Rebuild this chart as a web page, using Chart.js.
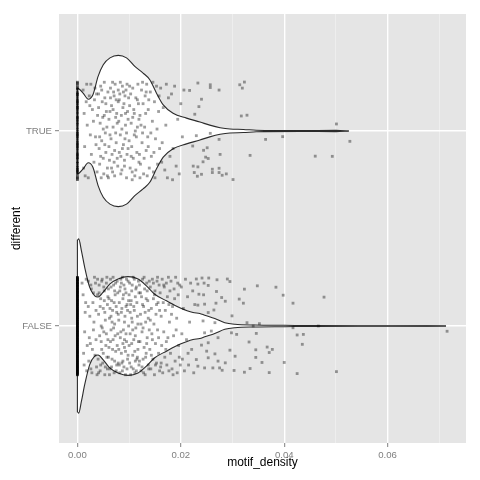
<!DOCTYPE html>
<html>
<head>
<meta charset="utf-8">
<script src="https://cdn.jsdelivr.net/npm/chart.js@4.4.0/dist/chart.umd.min.js"></script>
<style>
  html, body { margin: 0; padding: 0; background: #fff; }
  #chart { display: block; }
</style>
</head>
<body>
<canvas id="chart" width="480" height="480"></canvas>
<script>
// categories (y) and ticks
const categories = ['FALSE', 'TRUE'];
const categoryPos = [1, 2];
const xTicks = [0, 0.01, 0.02, 0.03, 0.04, 0.05, 0.06, 0.07];
const xTickLabels = ['0.00', '', '0.02', '', '0.04', '', '0.06', ''];

// violin outlines: motif_density and half width
const trueViolinX = [0, 0.0011, 0.0021, 0.0030, 0.0040, 0.0050, 0.0063, 0.0079, 0.0095, 0.0111, 0.0127, 0.0140, 0.0153, 0.0166, 0.0185, 0.0211, 0.0237, 0.0256, 0.0276, 0.0295, 0.0321, 0.0346, 0.0430, 0.0500, 0.0525];
const trueViolinHalf = [0.220, 0.194, 0.163, 0.186, 0.280, 0.340, 0.375, 0.388, 0.375, 0.331, 0.297, 0.263, 0.194, 0.134, 0.091, 0.066, 0.046, 0.030, 0.017, 0.010, 0.008, 0.004, 0.002, 0.003, 0];
const falseViolinX = [0, 0.00025, 0.00077, 0.00141, 0.00238, 0.00335, 0.00399, 0.00495, 0.00625, 0.00786, 0.00979, 0.01173, 0.01335, 0.01496, 0.01723, 0.0198, 0.02237, 0.02367, 0.02464, 0.02657, 0.02851, 0.03045, 0.03432, 0.0401, 0.0459, 0.0600, 0.0713];
const falseViolinHalf = [0.440, 0.447, 0.387, 0.301, 0.198, 0.155, 0.149, 0.172, 0.215, 0.241, 0.253, 0.241, 0.206, 0.163, 0.129, 0.094, 0.069, 0.064, 0.055, 0.038, 0.017, 0.009, 0.005, 0.0035, 0.002, 0.0015, 0];

// jittered points: zeros (vertical jitter only) and [motif_density, jitter]
const trueZeroJitter = [0.243, 0.231, 0.22, 0.214, 0.198, 0.19, 0.176, 0.163, 0.155, 0.141, 0.13, 0.122, 0.109, 0.097, 0.088, 0.074, 0.069, 0.052, 0.041, 0.033, 0.02, 0.008, -0.004, -0.013, -0.027, -0.035, -0.048, -0.059, -0.066, -0.081, -0.09, -0.102, -0.115, -0.121, -0.137, -0.144, -0.158, -0.166, -0.179, -0.188, -0.197, -0.21, -0.219, -0.233, -0.241, -0.249, 0.25, 0.186, 0.117, 0.06, -0.019, -0.074, -0.129, -0.203, 0.148];
const truePoints = [
  [0.0011,0.21],[0.0014,-0.08],[0.0017,0.15],[0.0012,-0.19],[0.0019,0.03],[0.0015,-0.23],[0.0018,0.24],[0.0013,0.09],
  [0.0023,0.18],[0.0027,-0.12],[0.0031,0.05],[0.0034,0.22],[0.0038,-0.21],[0.0025,-0.02],[0.0029,0.11],[0.0036,-0.07],[0.0021,-0.24],[0.0033,0.16],[0.0039,0.08],[0.0026,0.24],[0.0032,-0.16],[0.0037,0.19],[0.0024,0.13],[0.0035,-0.03],
  [0.0041,0.12],[0.0043,-0.17],[0.0045,0.23],[0.0047,-0.05],[0.0049,0.07],[0.0051,-0.22],[0.0053,0.17],[0.0055,-0.11],[0.0057,0.02],[0.0059,0.20],[0.0042,-0.09],[0.0044,0.04],[0.0046,-0.24],[0.0048,0.15],[0.0050,-0.14],[0.0052,0.25],[0.0054,-0.01],[0.0056,0.10],[0.0058,-0.19],[0.0041,0.19],[0.0043,-0.03],[0.0047,0.21],[0.0050,0.01],[0.0053,-0.07],[0.0055,0.14],[0.0058,-0.23],[0.0045,-0.13],[0.0052,0.08],
  [0.0061,0.06],[0.0062,-0.15],[0.0064,0.22],[0.0065,-0.04],[0.0066,0.13],[0.0068,-0.21],[0.0069,0.02],[0.0071,0.18],[0.0072,-0.10],[0.0073,0.24],[0.0075,-0.06],[0.0076,0.09],[0.0078,-0.18],[0.0079,0.15],[0.0060,-0.24],[0.0063,0.10],[0.0067,-0.12],[0.0070,0.20],[0.0074,-0.01],[0.0077,0.04],[0.0061,-0.08],[0.0064,0.17],[0.0066,-0.19],[0.0069,0.11],[0.0072,-0.23],[0.0074,0.07],[0.0077,-0.14],[0.0079,0.21],[0.0063,-0.02],[0.0068,0.25],[0.0071,-0.16],[0.0075,0.16],
  [0.0081,-0.11],[0.0082,0.19],[0.0083,-0.02],[0.0085,0.08],[0.0086,-0.20],[0.0087,0.23],[0.0089,-0.07],[0.0090,0.14],[0.0091,-0.15],[0.0093,0.03],[0.0094,0.21],[0.0095,-0.24],[0.0097,0.10],[0.0098,-0.09],[0.0099,0.17],[0.0080,0.05],[0.0084,-0.13],[0.0088,0.12],[0.0092,-0.04],[0.0096,0.24],[0.0081,0.16],[0.0084,-0.22],[0.0086,0.01],[0.0089,0.20],[0.0091,-0.18],[0.0093,0.09],[0.0096,-0.12],[0.0098,0.06],[0.0083,0.25],[0.0087,-0.09],[0.0092,0.18],[0.0095,-0.01],
  [0.0101,0.13],[0.0102,-0.19],[0.0104,0.04],[0.0105,-0.08],[0.0107,0.22],[0.0108,-0.14],[0.0110,0.09],[0.0111,-0.23],[0.0113,0.17],[0.0114,-0.03],[0.0116,0.02],[0.0117,0.24],[0.0119,-0.16],[0.0100,-0.05],[0.0103,0.19],[0.0106,-0.21],[0.0109,0.11],[0.0112,0.00],[0.0115,-0.11],[0.0118,0.14],[0.0101,0.23],[0.0104,-0.13],[0.0107,0.07],[0.0110,-0.02],[0.0113,-0.20],[0.0116,0.16],[0.0119,0.06],[0.0106,-0.25],
  [0.0121,0.08],[0.0122,-0.17],[0.0124,0.21],[0.0125,-0.06],[0.0127,0.14],[0.0128,-0.22],[0.0130,0.02],[0.0131,0.18],[0.0133,-0.10],[0.0134,0.24],[0.0136,-0.03],[0.0137,0.11],[0.0139,-0.19],[0.0120,-0.12],[0.0123,0.03],[0.0126,0.25],[0.0129,-0.14],[0.0132,0.09],[0.0135,-0.23],[0.0138,0.16],[0.0121,-0.24],[0.0126,-0.01],[0.0133,0.20],[0.0137,-0.08],
  [0.0141,0.20],[0.0143,-0.13],[0.0145,0.05],[0.0147,-0.21],[0.0149,0.15],[0.0151,-0.04],[0.0153,0.23],[0.0155,-0.17],[0.0157,0.10],[0.0159,-0.09],[0.0142,-0.01],[0.0146,0.25],[0.0150,-0.24],[0.0154,0.01],[0.0158,0.18],[0.0148,-0.11],
  [0.0161,0.22],[0.0164,-0.06],[0.0166,0.12],[0.0169,-0.20],[0.0171,0.03],[0.0174,-0.24],[0.0176,0.17],[0.0179,-0.13],[0.0163,-0.16],[0.0172,0.24],
  [0.0182,0.19],[0.0185,-0.09],[0.0188,0.23],[0.0191,-0.18],[0.0194,0.06],[0.0197,-0.22],[0.0200,0.14],[0.0203,-0.03],[0.0206,0.21],[0.0184,-0.25],
  [0.0323,0.251],[0.0319,0.220],[0.0314,0.237],[0.0328,0.081],[0.0317,0.077],[0.0501,0.036],[0.0397,-0.029],[0.0364,-0.043],[0.0527,-0.053],[0.0334,-0.125],[0.0460,-0.129],[0.0493,-0.130],
  [0.0233,0.246],[0.0257,0.237],[0.0257,0.223],[0.0274,0.210],[0.0240,0.163],[0.0235,0.125],[0.0217,0.208],[0.0227,0.086],[0.0257,-0.012],[0.0230,-0.024],[0.0274,-0.043],[0.0223,-0.077],[0.0251,-0.086],[0.0244,-0.099],[0.0276,-0.120],[0.0248,-0.134],[0.0253,-0.141],[0.0243,-0.158],[0.0224,-0.180],[0.0233,-0.184],[0.0261,-0.196],[0.0274,-0.191],[0.0226,-0.213],[0.0240,-0.222],[0.0232,-0.232],[0.0261,-0.213],[0.0274,-0.213],[0.0280,-0.227],[0.0288,-0.220],[0.0301,-0.249]
];
const falseZeroJitter = [0.249, 0.244, 0.238, 0.235, 0.229, 0.222, 0.219, 0.213, 0.207, 0.203, 0.196, 0.191, 0.186, 0.18, 0.174, 0.171, 0.164, 0.158, 0.153, 0.149, 0.141, 0.137, 0.131, 0.126, 0.12, 0.114, 0.109, 0.103, 0.098, 0.091, 0.087, 0.081, 0.075, 0.07, 0.063, 0.059, 0.052, 0.047, 0.042, 0.035, 0.031, 0.024, 0.019, 0.013, 0.008, 0.002, -0.004, -0.009, -0.015, -0.021, -0.026, -0.032, -0.036, -0.043, -0.048, -0.053, -0.059, -0.065, -0.07, -0.076, -0.081, -0.086, -0.093, -0.097, -0.103, -0.108, -0.114, -0.119, -0.125, -0.13, -0.136, -0.14, -0.147, -0.152, -0.157, -0.163, -0.168, -0.174, -0.179, -0.185, -0.19, -0.196, -0.201, -0.207, -0.212, -0.217, -0.223, -0.228, -0.234, -0.239, -0.245, -0.25];
const falsePoints = [
  [0.0009,0.22],[0.0012,-0.14],[0.0015,0.07],[0.0018,-0.23],[0.0011,0.16],[0.0014,-0.03],[0.0017,0.24],[0.0019,-0.10],[0.0013,-0.20],[0.0016,0.12],
  [0.0021,0.23],[0.0022,-0.18],[0.0024,0.05],[0.0025,-0.09],[0.0027,0.19],[0.0028,-0.24],[0.0030,0.12],[0.0031,-0.02],[0.0033,0.25],[0.0034,-0.15],[0.0036,0.08],[0.0037,-0.21],[0.0039,0.16],[0.0023,-0.06],[0.0026,0.21],[0.0029,-0.12],[0.0032,0.02],[0.0035,0.22],[0.0038,-0.25],[0.0021,0.10],[0.0026,-0.22],[0.0031,0.17],[0.0036,-0.07],[0.0039,0.24],
  [0.0040,-0.17],[0.0041,0.06],[0.0042,0.21],[0.0043,-0.05],[0.0044,-0.23],[0.0045,0.14],[0.0046,0.00],[0.0047,-0.12],[0.0048,0.24],[0.0049,-0.19],[0.0050,0.09],[0.0051,-0.03],[0.0052,0.18],[0.0053,-0.25],[0.0054,0.03],[0.0055,-0.10],[0.0056,0.22],[0.0057,-0.16],[0.0058,0.11],[0.0059,-0.07],[0.0041,-0.24],[0.0042,0.17],[0.0044,0.10],[0.0045,-0.20],[0.0047,0.23],[0.0048,-0.01],[0.0050,-0.14],[0.0051,0.20],[0.0053,0.07],[0.0054,-0.21],[0.0056,-0.04],[0.0057,0.25],[0.0058,-0.22],[0.0059,0.15],[0.0046,-0.08],[0.0052,0.13],
  [0.0060,0.19],[0.0061,-0.11],[0.0062,0.04],[0.0063,-0.22],[0.0064,0.24],[0.0065,-0.02],[0.0066,0.13],[0.0067,-0.17],[0.0068,0.08],[0.0069,-0.07],[0.0070,0.21],[0.0071,-0.24],[0.0072,0.01],[0.0073,0.16],[0.0074,-0.13],[0.0075,0.10],[0.0076,-0.20],[0.0077,0.23],[0.0078,-0.04],[0.0079,0.06],[0.0060,-0.16],[0.0061,0.14],[0.0062,-0.25],[0.0063,0.09],[0.0064,-0.08],[0.0065,0.20],[0.0066,-0.21],[0.0067,0.02],[0.0068,-0.12],[0.0069,0.25],[0.0070,-0.01],[0.0071,0.12],[0.0072,-0.18],[0.0073,-0.05],[0.0074,0.22],[0.0075,-0.23],[0.0076,0.07],[0.0077,-0.10],[0.0078,0.17],[0.0079,-0.19],[0.0065,0.05],[0.0072,0.18],
  [0.0080,0.03],[0.0081,-0.20],[0.0082,0.18],[0.0083,-0.06],[0.0084,0.24],[0.0085,-0.14],[0.0086,0.09],[0.0087,-0.23],[0.0088,0.14],[0.0089,-0.02],[0.0090,0.21],[0.0091,-0.11],[0.0092,0.05],[0.0093,-0.25],[0.0094,0.17],[0.0095,-0.08],[0.0096,0.11],[0.0097,-0.17],[0.0098,0.23],[0.0099,0.00],[0.0080,-0.12],[0.0081,0.12],[0.0082,-0.24],[0.0083,0.20],[0.0084,-0.03],[0.0085,0.07],[0.0086,-0.19],[0.0087,0.25],[0.0088,-0.09],[0.0089,0.16],[0.0090,-0.21],[0.0091,0.02],[0.0092,0.19],[0.0093,-0.13],[0.0094,-0.04],[0.0095,0.24],[0.0096,-0.22],[0.0097,0.08],[0.0098,-0.15],[0.0099,0.13],[0.0085,0.22],[0.0091,-0.07],[0.0094,0.10],[0.0088,-0.18],
  [0.0100,-0.10],[0.0101,0.22],[0.0102,-0.04],[0.0103,0.11],[0.0104,-0.21],[0.0105,0.18],[0.0106,0.02],[0.0107,-0.15],[0.0108,0.25],[0.0109,-0.07],[0.0110,0.08],[0.0111,-0.24],[0.0112,0.15],[0.0113,-0.01],[0.0114,0.20],[0.0115,-0.17],[0.0116,0.05],[0.0117,-0.12],[0.0118,0.23],[0.0119,-0.20],[0.0100,0.16],[0.0101,-0.19],[0.0102,0.07],[0.0103,-0.25],[0.0104,0.13],[0.0105,-0.09],[0.0106,0.21],[0.0107,-0.02],[0.0108,-0.22],[0.0109,0.10],[0.0110,0.24],[0.0111,-0.13],[0.0112,-0.05],[0.0113,0.19],[0.0114,-0.23],[0.0115,0.12],[0.0116,-0.16],[0.0117,0.01],[0.0118,-0.08],[0.0119,0.17],[0.0105,0.04],[0.0112,-0.18],
  [0.0120,0.21],[0.0121,-0.08],[0.0122,0.06],[0.0123,-0.23],[0.0124,0.15],[0.0125,-0.03],[0.0126,0.24],[0.0127,-0.17],[0.0128,0.10],[0.0129,-0.11],[0.0130,0.19],[0.0131,-0.25],[0.0132,0.02],[0.0133,-0.14],[0.0134,0.22],[0.0135,-0.06],[0.0136,0.13],[0.0137,-0.20],[0.0138,0.08],[0.0139,-0.02],[0.0120,-0.18],[0.0122,0.17],[0.0123,0.01],[0.0125,-0.21],[0.0126,0.11],[0.0128,-0.24],[0.0129,0.25],[0.0131,0.07],[0.0132,-0.16],[0.0134,-0.09],[0.0135,0.18],[0.0137,0.04],[0.0138,-0.22],[0.0139,0.23],[0.0127,-0.01],[0.0133,0.14],
  [0.0140,-0.12],[0.0141,0.20],[0.0142,-0.22],[0.0143,0.09],[0.0144,-0.04],[0.0145,0.24],[0.0146,-0.17],[0.0147,0.14],[0.0148,0.01],[0.0149,-0.25],[0.0150,0.18],[0.0151,-0.09],[0.0152,0.06],[0.0153,-0.19],[0.0154,0.23],[0.0155,-0.02],[0.0156,0.12],[0.0157,-0.14],[0.0158,0.21],[0.0159,-0.23],[0.0141,0.03],[0.0143,-0.15],[0.0145,-0.07],[0.0147,0.22],[0.0149,0.16],[0.0151,-0.20],[0.0153,0.11],[0.0155,0.25],[0.0157,-0.06],[0.0159,0.08],
  [0.0160,0.17],[0.0161,-0.21],[0.0162,0.05],[0.0163,-0.10],[0.0164,0.24],[0.0165,-0.24],[0.0166,0.12],[0.0167,-0.03],[0.0168,0.20],[0.0169,-0.16],[0.0170,0.08],[0.0171,-0.12],[0.0172,0.22],[0.0173,-0.20],[0.0174,0.15],[0.0175,-0.06],[0.0176,0.25],[0.0177,-0.23],[0.0178,0.02],[0.0179,0.18],[0.0162,-0.19],[0.0167,0.21],[0.0172,-0.08],[0.0177,0.11],
  [0.0180,-0.14],[0.0181,0.23],[0.0183,-0.22],[0.0184,0.10],[0.0186,-0.05],[0.0187,0.19],[0.0189,-0.18],[0.0190,0.25],[0.0192,0.04],[0.0193,-0.24],[0.0195,0.16],[0.0196,-0.10],[0.0198,0.21],[0.0199,-0.20],[0.0182,0.06],[0.0185,-0.25],[0.0188,0.14],[0.0191,-0.02],[0.0194,0.22],[0.0197,-0.16],
  [0.0201,0.20],[0.0203,-0.17],[0.0205,0.09],[0.0207,-0.23],[0.0209,0.24],[0.0211,-0.07],[0.0213,0.15],[0.0215,-0.20],[0.0217,0.02],[0.0219,0.22],[0.0221,-0.12],[0.0223,0.18],[0.0225,-0.24],[0.0227,0.11],[0.0202,-0.04],[0.0214,-0.14],
  [0.0230,0.241],[0.0241,0.246],[0.0254,0.246],[0.0270,0.237],[0.0290,0.241],[0.0295,0.228],[0.0233,0.215],[0.0245,0.220],[0.0253,0.208],[0.0323,0.189],[0.0348,0.206],[0.0384,0.199],[0.0235,0.163],[0.0244,0.160],[0.0269,0.177],[0.0279,0.146],[0.0313,0.138],[0.0321,0.117],[0.0286,0.127],[0.0268,0.117],[0.0246,0.112],[0.0233,0.107],[0.0253,0.069],[0.0264,0.082],[0.0299,0.052],[0.0243,0.026],[0.0266,0.017],[0.0259,-0.026],[0.0246,-0.035],[0.0272,-0.060],[0.0298,-0.035],[0.0308,-0.043],[0.0240,-0.098],[0.0253,-0.086],[0.0250,-0.129],[0.0253,-0.163],[0.0266,-0.143],[0.0272,-0.180],[0.0286,-0.189],[0.0295,-0.124],[0.0305,-0.155],[0.0332,-0.082],[0.0230,-0.172],[0.0233,-0.206],[0.0246,-0.215],[0.0262,-0.215],[0.0275,-0.215],[0.0280,-0.227],[0.0303,-0.228],[0.0323,-0.237],
  [0.0398,0.158],[0.0417,0.117],[0.0477,0.148],[0.0328,0.017],[0.0352,0.012],[0.0340,0.000],[0.0417,-0.009],[0.0466,0.000],[0.0346,-0.038],[0.0425,-0.046],[0.0437,-0.043],[0.0435,-0.094],[0.0367,-0.108],[0.0377,-0.120],[0.0345,-0.122],[0.0371,-0.136],[0.0345,-0.161],[0.0357,-0.187],[0.0400,-0.187],[0.0334,-0.218],[0.0371,-0.239],[0.0425,-0.244],[0.0501,-0.234],[0.0715,-0.027]
];

const violin = (center, xs, half) => [
  [{x: xs[0], y: center}].concat(xs.map((x, i) => ({x: x, y: center + half[i]}))),
  [{x: xs[0], y: center}].concat(xs.map((x, i) => ({x: x, y: center - half[i]})))
];
const [trueUp, trueLow] = violin(categoryPos[1], trueViolinX, trueViolinHalf);
const [falseUp, falseLow] = violin(categoryPos[0], falseViolinX, falseViolinHalf);

// upper half carries the white fill and is drawn first (higher order),
// lower half's line goes on top so both outlines keep full width
const outline = {
  showLine: true, pointRadius: 0, borderColor: '#2b2b2b', borderWidth: 1.1,
  backgroundColor: '#ffffff', cubicInterpolationMode: 'monotone'
};
const dots = (data, alpha) => ({
  data: data, showLine: false, pointStyle: 'rect', pointRadius: 2,
  pointBorderWidth: 0, pointBackgroundColor: 'rgba(0,0,0,' + alpha + ')', order: 0
});

const panelBg = {
  id: 'panelBg',
  beforeDraw(chart) {
    const {ctx, chartArea: a} = chart;
    ctx.save();
    ctx.fillStyle = '#e5e5e5';
    ctx.fillRect(a.left, a.top, a.right - a.left, a.bottom - a.top);
    ctx.restore();
  }
};

new Chart(document.getElementById('chart'), {
  type: 'line',
  data: {
    datasets: [
      Object.assign({data: trueUp, fill: '+1', order: 2}, outline),
      Object.assign({data: trueLow, fill: false, order: 1}, outline),
      Object.assign({data: falseUp, fill: '+1', order: 2}, outline),
      Object.assign({data: falseLow, fill: false, order: 1}, outline),
      dots(trueZeroJitter.map(d => ({x: 0, y: categoryPos[1] + d})), 0.6),
      dots(truePoints.map(p => ({x: p[0], y: categoryPos[1] + p[1]})), 0.38),
      dots(falseZeroJitter.map(d => ({x: 0, y: categoryPos[0] + d})), 0.8),
      dots(falsePoints.map(p => ({x: p[0], y: categoryPos[0] + p[1]})), 0.38)
    ]
  },
  options: {
    responsive: false,
    animation: false,
    devicePixelRatio: 1,
    layout: { padding: { top: 14, right: 14, left: 0, bottom: 0 } },
    plugins: { legend: { display: false }, tooltip: { enabled: false } },
    scales: {
      x: {
        type: 'linear', min: -0.00356, max: 0.07516,
        afterBuildTicks: s => { s.ticks = xTicks.map(v => ({value: v})); },
        afterFit: s => { s.height = 37; },
        border: { display: false },
        grid: {
          color: c => xTickLabels[c.index] ? '#ffffff' : '#f2f2f2',
          lineWidth: c => xTickLabels[c.index] ? 1.4 : 0.7,
          tickColor: c => xTickLabels[c.index] ? '#7f7f7f' : 'rgba(0,0,0,0)',
          tickLength: 4, tickWidth: 1
        },
        ticks: {
          autoSkip: false, maxRotation: 0, padding: 3, color: '#7f7f7f',
          font: { family: 'Liberation Sans, Arial, sans-serif', size: 9.6 },
          callback: (v, i) => xTickLabels[i]
        },
        title: {
          display: true, text: 'motif_density', color: '#000000',
          font: { family: 'Liberation Sans, Arial, sans-serif', size: 12 },
          padding: { top: 0, bottom: 10 }
        }
      },
      y: {
        type: 'linear', min: 0.4, max: 2.6,
        afterBuildTicks: s => { s.ticks = categoryPos.map(v => ({value: v})); },
        afterFit: s => { s.width = 59; },
        border: { display: false },
        grid: { color: '#ffffff', lineWidth: 1.4, tickColor: '#7f7f7f', tickLength: 4, tickWidth: 1 },
        ticks: {
          autoSkip: false, padding: 3, color: '#7f7f7f',
          font: { family: 'Liberation Sans, Arial, sans-serif', size: 9.6 },
          callback: (v, i) => categories[i]
        },
        title: {
          display: true, text: 'different', color: '#000000',
          font: { family: 'Liberation Sans, Arial, sans-serif', size: 12 },
          padding: { top: 9, bottom: 0 }
        }
      }
    }
  },
  plugins: [panelBg]
});
</script>
</body>
</html>
